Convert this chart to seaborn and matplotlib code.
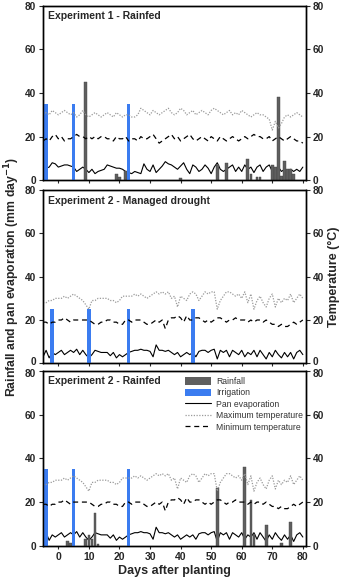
import numpy as np
import pandas as pd
import matplotlib
matplotlib.use("Agg")
import matplotlib.pyplot as plt
import matplotlib.transforms as mtrans
import seaborn as sns
from matplotlib.patches import Patch
from matplotlib.lines import Line2D

# days after planting, -5 .. 80
days = list(range(-5, 81))

# ---- Experiment 1 weather ----
exp1_pan = [3, 5.5, 6, 8, 7.5, 6, 6.5, 7, 7, 6.5, 6, 4, 5, 6, 5, 3.5, 5, 3, 4, 4.5,
            5, 7, 6.5, 6, 5.5, 5.5, 5, 4, 3.5, 3, 4, 3.5, 3, 7.5, 5, 4, 7, 3.5, 5, 6.5,
            8.5, 7.5, 7, 6, 5, 6.5, 8, 5, 3, 7, 6, 4, 5, 7, 5.5, 3, 6, 8, 5, 4,
            5, 6, 7, 4, 6, 4, 7, 5, 6, 3.5, 6, 7, 4, 6, 7, 4, 3, 6, 4, 5,
            3, 5, 4, 5, 4, 6]
exp1_tmax = [30, 31, 30, 32, 31, 30, 31, 32, 31, 30, 31, 29, 30, 32, 30, 29, 30, 31, 30, 29,
             30, 31, 30, 29, 31, 30, 29, 30, 30, 29, 29, 30, 33, 32, 31, 30, 32, 31, 30, 31,
             32, 33, 31, 30, 31, 33, 32, 30, 31, 32, 30, 31, 32, 31, 30, 32, 33, 32, 31, 30,
             31, 32, 30, 31, 30, 32, 31, 30, 29, 30, 31, 30, 30, 29, 28, 23, 27, 24, 26, 29,
             30, 29, 30, 31, 30, 29]
exp1_tmin = [18, 19, 18, 20, 21, 19, 20, 18, 19, 19, 20, 21, 20, 20, 19, 20, 19, 20, 19, 20,
             20, 19, 19, 18, 20, 19, 19, 20, 18, 19, 19, 18, 20, 19, 19, 20, 21, 19, 17, 18,
             19, 20, 21, 19, 20, 18, 19, 20, 21, 19, 18, 19, 20, 19, 18, 20, 19, 18, 20, 19,
             18, 19, 20, 19, 18, 19, 20, 19, 20, 21, 20, 20, 19, 19, 20, 18, 19, 20, 19, 18,
             19, 20, 19, 18, 18, 17]

# ---- Experiment 2 weather (same site for both trials) ----
exp2_pan = [3, 6, 2.5, 5, 4, 5, 6, 4, 5, 6, 5, 6.5, 4, 6, 4, 2.5, 4, 6, 5.5, 5,
            5, 5, 3.5, 5, 2.5, 4, 3, 4, 5, 5.5, 6, 6, 6.5, 6, 6, 5.5, 3, 8.5, 6, 6,
            5.5, 6, 5, 4, 5, 3, 4, 5, 4, 5, 3, 5.5, 6, 6, 5, 6, 6.5, 2, 6, 5,
            6, 3, 6, 5, 4, 6, 3, 5, 4, 6, 3, 6, 4, 2, 5, 3, 6, 4, 2.5, 5,
            3, 5, 2, 5, 6, 4]
exp2_tmax = [28, 28, 29, 29, 30, 30, 30, 31, 30, 31, 32, 31, 30, 29, 27, 25, 29, 29, 30, 30,
             30, 30, 29, 29, 28, 29, 31, 31, 31, 31, 32, 31, 32, 31, 30, 31, 32, 33, 32, 33,
             32, 33, 30, 31, 26, 31, 30, 29, 32, 33, 32, 29, 31, 33, 32, 33, 33, 25, 29, 31,
             33, 33, 32, 31, 32, 30, 33, 28, 32, 25, 29, 31, 28, 26, 30, 32, 26, 30, 28, 30,
             29, 32, 28, 30, 32, 30]
exp2_tmin = [19, 19, 18, 19, 19, 20, 20, 21, 20, 19, 20, 20, 20, 20, 20, 20, 19, 18, 18, 19,
             19, 20, 20, 19, 19, 18, 18, 20, 20, 19, 20, 20, 20, 19, 18, 18, 19, 20, 19, 20,
             16, 20, 21, 21, 22, 21, 19, 22, 20, 20, 21, 21, 20, 19, 20, 19, 20, 21, 21, 20,
             19, 20, 20, 21, 20, 20, 20, 19, 20, 19, 20, 20, 19, 20, 19, 18, 18, 17, 18, 17,
             17, 18, 19, 18, 19, 20]

# ---- rainfall and irrigation events (day, mm) ----
exp1_rain_day = [9, 19, 20, 22, 40, 52, 55, 62, 63, 65, 66, 70, 71, 72, 73, 74, 75, 76, 77]
exp1_rain_mm = [45, 3, 1.5, 4, 1, 7, 8, 9.5, 3, 1.5, 1.5, 7, 6, 38, 2, 9, 5, 5, 3]
exp1_irr_day = [-4, 5, 23]
exp1_irr_mm = [35, 35, 35]

exp2d_rain_day = []
exp2d_rain_mm = []
exp2d_irr_day = [-2, 10, 23, 44]
exp2d_irr_mm = [25, 25, 25, 25]

exp2r_rain_day = [3, 4, 9, 10, 11, 12, 13, 52, 61, 63, 64, 68, 73, 76]
exp2r_rain_mm = [2, 1.5, 3, 5, 3, 15, 1, 26.5, 36, 21, 5.5, 9.5, 1.5, 11]
exp2r_irr_day = [-4, 5, 23]
exp2r_irr_mm = [35, 35, 35]

panels = [
    ("Experiment 1 - Rainfed", exp1_pan, exp1_tmax, exp1_tmin,
     exp1_rain_day, exp1_rain_mm, exp1_irr_day, exp1_irr_mm),
    ("Experiment 2 - Managed drought", exp2_pan, exp2_tmax, exp2_tmin,
     exp2d_rain_day, exp2d_rain_mm, exp2d_irr_day, exp2d_irr_mm),
    ("Experiment 2 - Rainfed", exp2_pan, exp2_tmax, exp2_tmin,
     exp2r_rain_day, exp2r_rain_mm, exp2r_irr_day, exp2r_irr_mm),
]

sns.set_theme(style="ticks")
plt.rcParams['font.family'] = ['Liberation Sans', 'DejaVu Sans']
plt.rcParams['font.weight'] = 'bold'

rain_col = '#5f5f5f'
irr_col = '#3b7cf0'

fig = plt.figure(figsize=(3.5, 5.85), dpi=100)
boxes = [(0.692, 0.298), (0.379, 0.296), (0.067, 0.299)]

for i, (title, pan, tmax, tmin, rd, rmm, idy, imm) in enumerate(panels):
    b, h = boxes[i]
    ax = fig.add_axes([0.123, b, 0.751, h])
    ax2 = ax.twinx()

    ax.bar(rd, rmm, width=0.9, color=rain_col, edgecolor='#444444', linewidth=0.3, zorder=3)
    ax.bar(idy, imm, width=1.2, color=irr_col, edgecolor='none', zorder=4)
    df = pd.DataFrame({'day': days, 'pan': pan, 'tmax': tmax, 'tmin': tmin})
    sns.lineplot(data=df, x='day', y='pan', ax=ax, color='black', lw=0.8, zorder=2)
    sns.lineplot(data=df, x='day', y='tmax', ax=ax2, color='#9a9a9a', lw=0.9,
                 linestyle=(0, (1, 1.2)))
    sns.lineplot(data=df, x='day', y='tmin', ax=ax2, color='black', lw=0.9,
                 linestyle=(0, (4, 3)))

    for a in (ax, ax2):
        a.set_ylim(0, 80)
        a.set_yticks([0, 20, 40, 60, 80])
        a.set_xlim(-5, 81)
        a.set_ylabel('')
        a.set_xlabel('')
        a.tick_params(axis='y', labelsize=7.3, length=3, width=0.8, pad=2)
        for s in a.spines.values():
            s.set_linewidth(1.0)
            s.set_color('black')
        # nudge the touching 0 / 80 labels between stacked panels apart a little
        labs = a.get_yticklabels() + a.yaxis.get_ticklabels(which='major')
        for lab in a.yaxis.get_majorticklabels():
            pass
        for tick in a.yaxis.get_major_ticks():
            if i == 1 and tick.get_loc() == 0:
                off = mtrans.ScaledTranslation(0, 1.5 / 72, fig.dpi_scale_trans)
            elif i == 2 and tick.get_loc() == 80:
                off = mtrans.ScaledTranslation(0, -1.5 / 72, fig.dpi_scale_trans)
            else:
                continue
            for lab in (tick.label1, tick.label2):
                lab.set_transform(lab.get_transform() + off)
    ax.set_xticks(range(0, 81, 10))
    ax.tick_params(axis='x', labelsize=7.5, length=2.5, width=0.8, pad=2)
    ax2.tick_params(axis='x', length=0)
    if i < 2:
        ax.set_xticklabels([])
    ax.text(0.018, 0.94, title, transform=ax.transAxes, fontsize=7.5,
            fontweight='bold', va='center', ha='left')
    if i == 1:
        ax2.set_ylabel('Temperature (\u00b0C)', fontsize=9, fontweight='bold', labelpad=3)
        ax.set_ylabel('Rainfall and pan evaporation (mm day$^{\\mathbf{-1}}$)',
                      fontsize=8.8, fontweight='bold', labelpad=2)
    if i == 2:
        ax.set_xlabel('Days after planting', fontsize=9, fontweight='bold', labelpad=2)
        handles = [Patch(facecolor=rain_col, edgecolor='none'),
                   Patch(facecolor=irr_col, edgecolor='none'),
                   Line2D([], [], color='black', lw=0.8),
                   Line2D([], [], color='#9a9a9a', lw=0.9, linestyle=(0, (1, 1.2))),
                   Line2D([], [], color='black', lw=0.9, linestyle=(0, (4, 3)))]
        labels = ['Rainfall', 'Irrigation', 'Pan evaporation',
                  'Maximum temperature', 'Minimum temperature']
        leg = ax2.legend(handles, labels, loc='upper left', bbox_to_anchor=(0.52, 0.995),
                         frameon=False, fontsize=6.2, handlelength=3.0, handleheight=0.9,
                         labelspacing=0.28, handletextpad=0.6, borderaxespad=0.2)
        for t in leg.get_texts():
            t.set_fontweight('normal')
            t.set_color('#333333')

fig.savefig('out.png', dpi=100)
